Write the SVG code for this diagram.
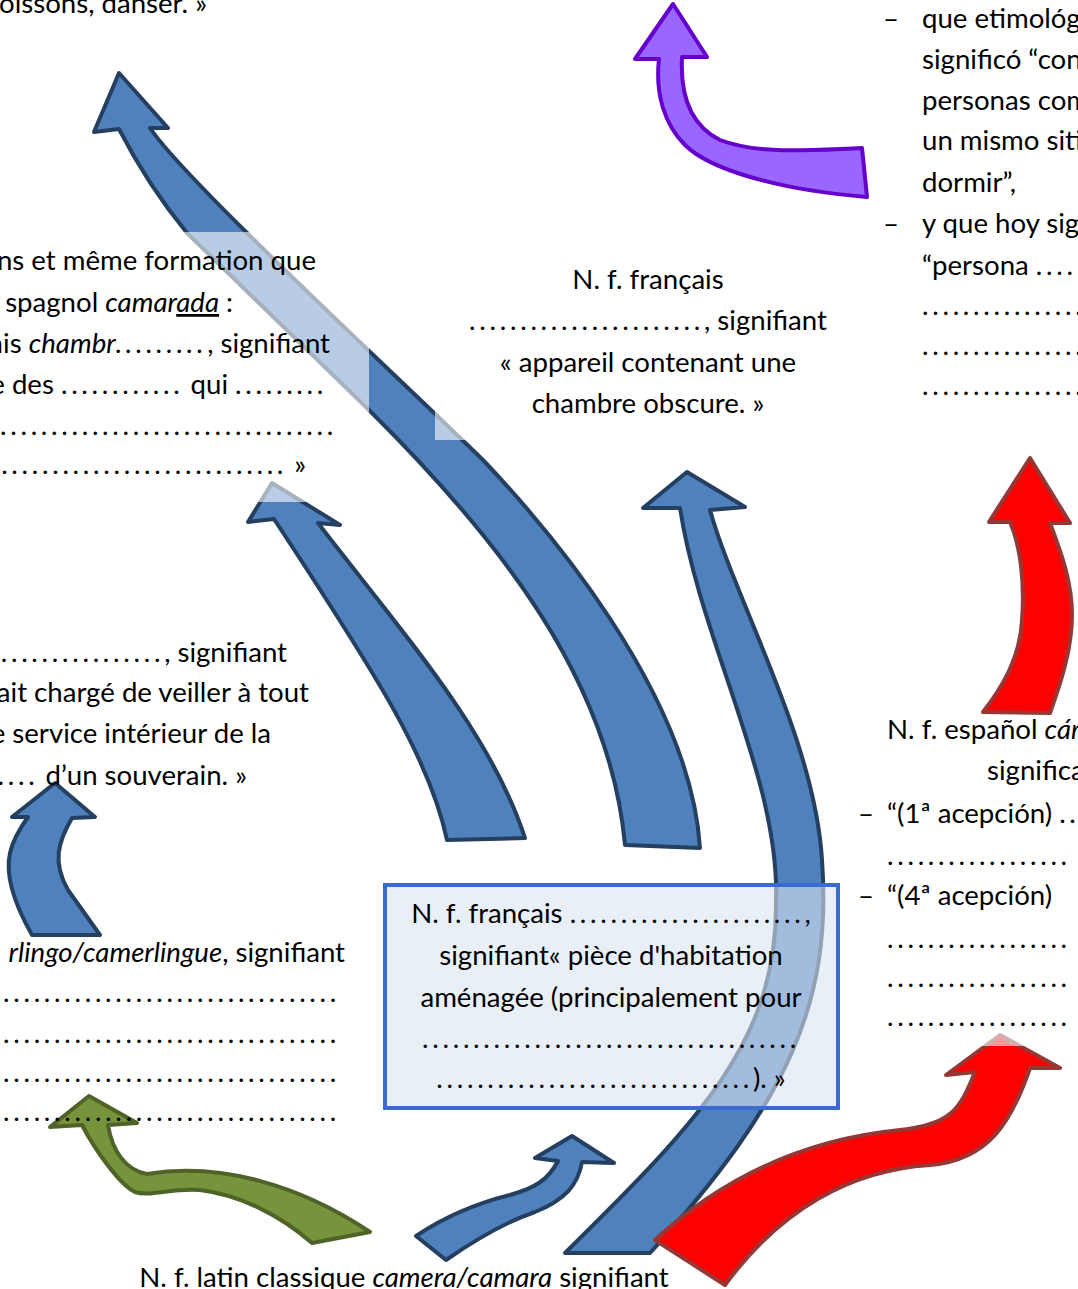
<svg xmlns="http://www.w3.org/2000/svg" width="1078" height="1289" viewBox="0 0 1078 1289">
<style>
.t{font-family:Lato,"Open Sans","Liberation Sans",sans-serif;font-size:27.6px;fill:#000}
.m{text-anchor:middle}
.e{text-anchor:end}
.i{font-style:italic}
.d{letter-spacing:3.7px}
.ov{fill:#fff;fill-opacity:.6}
.blue{fill:#4f81bd;stroke:#243f60;stroke-width:4;stroke-linejoin:round}
.purple{fill:#9966ff;stroke:#6600cc;stroke-width:4;stroke-linejoin:round}
.red{fill:#ff0000;stroke:#953735;stroke-width:4;stroke-linejoin:round}
.green{fill:#77933c;stroke:#4f6228;stroke-width:4;stroke-linejoin:round}
</style>
<g id="connectors">
<path class="blue" d="M119,73 L168,128 L150,128 C185,180 380,360 483,460 C540,520 690,690 700,848 L625,845 C610,680 500,540 369,410 L187,233 C160,200 135,160 119,129 L94,132 Z"/>
<path class="blue" d="M272,483 L340,525 L318,523 C400,630 490,730 525,838 L447,840 C430,760 380,680 274,519 L248,522 Z"/>
<path class="blue" d="M687,472 L745,507 L710,510 C735,600 815,740 822,860 C832,1000 790,1100 650,1253 L565,1253 C700,1120 778,1040 776,900 C780,780 700,640 680,508 L643,508 Z"/>
<path class="blue" d="M55,783 L95,817 L72,818 C58,842 52,862 68,890 L100,935 L32,935 C15,905 5,875 10,853 C13,840 20,828 28,817 L12,817 Z"/>
<path class="blue" d="M572,1136 L614,1163 L582,1162 C578,1185 565,1200 535,1212 C505,1222 475,1240 446,1260 L416,1236 C440,1220 470,1205 510,1195 C535,1188 548,1180 558,1161 L535,1158 Z"/>
<path class="green" d="M89,1096 L137,1123 L108,1125 C112,1150 125,1170 147,1174 C220,1162 300,1185 370,1232 L312,1243 C280,1215 240,1195 200,1190 C170,1188 150,1197 135,1192 C120,1185 95,1150 82,1125 L50,1127 Z"/>
<path class="purple" d="M673,4 L707,57 L682,57 C680,95 690,125 720,140 C760,155 810,150 862,148 L867,197 C780,190 710,170 685,145 C665,125 655,95 659,59 L635,59 Z"/>
<path class="red" d="M1030,458 L1070,523 L1050,523 C1060,550 1072,580 1072,615 C1072,650 1060,685 1050,713 L983,712 C1000,690 1020,660 1022,620 C1025,580 1020,545 1010,522 L989,522 Z"/>
<path class="red" d="M1000,1035 L1060,1068 L1030,1068 C1012,1120 990,1160 930,1165 C850,1170 780,1210 725,1285 L655,1240 C720,1180 800,1140 900,1130 C950,1125 960,1110 975,1072 L946,1075 Z"/>
</g>
<g id="node-top">
<text class="t e" x="207" y="13">boissons, danser. »</text>
</g>
<g id="node-camarade">
<rect class="ov" x="-5" y="232" width="374" height="270"/>
<text class="t e" x="316" y="270">ns et même formation que</text>
<text class="t e" x="233" y="312">spagnol <tspan class="i">camar</tspan><tspan class="i" text-decoration="underline">ada</tspan> :</text>
<text class="t e" x="330" y="353">ais <tspan class="i">chambr</tspan><tspan class="i d">.........</tspan>, signifiant</text>
<text class="t e" x="327" y="394">e des <tspan class="d">............</tspan> qui <tspan class="d">.........</tspan></text>
<text class="t d" x="0" y="435">.................................</text>
<text class="t e" x="306" y="474"><tspan class="d">............................</tspan> »</text>
</g>
<g id="node-camera">
<rect class="ov" x="435" y="250" width="425" height="190"/>
<text class="t m" x="648" y="289">N. f. français</text>
<text class="t m" x="648" y="330"><tspan class="d">.......................</tspan>, signifiant</text>
<text class="t m" x="648" y="372">« appareil contenant une</text>
<text class="t m" x="648" y="413">chambre obscure. »</text>
</g>
<g id="node-chambellan">
<text class="t e" x="287" y="662"><tspan class="d">.................</tspan>, signifiant</text>
<text class="t e" x="309" y="702">ait chargé de veiller à tout</text>
<text class="t e" x="271" y="743">e service intérieur de la</text>
<text class="t e" x="247" y="785"><tspan class="d">....</tspan> d’un souverain. »</text>
</g>
<g id="node-camerlingue">
<text class="t e" x="345" y="962"><tspan class="i">rlingo/camerlingue</tspan>, signifiant</text>
<text class="t d" x="3" y="1002">.................................</text>
<text class="t d" x="3" y="1043">.................................</text>
<text class="t d" x="3" y="1082">.................................</text>
<text class="t d" x="3" y="1121">.................................</text>
</g>
<g id="node-chambre">
<rect x="385" y="885" width="453" height="223" fill="#dbe5f1" fill-opacity=".6" stroke="#3a6bd0" stroke-width="4"/>
<text class="t m" x="611" y="923">N. f. français <tspan class="d">.......................</tspan>,</text>
<text class="t m" x="611" y="965">signifiant« pièce d'habitation</text>
<text class="t m" x="611" y="1007">aménagée (principalement pour</text>
<text class="t m" x="611" y="1048"><tspan class="d">.....................................</tspan></text>
<text class="t m" x="611" y="1088"><tspan class="d">...............................</tspan>). »</text>
</g>
<g id="node-latin">
<text class="t m" x="404" y="1287">N. f. latin classique <tspan class="i">camera/camara</tspan> signifiant</text>
</g>
<g id="node-camarada">
<text class="t" x="883" y="28">–</text>
<text class="t" x="922" y="28">que etimológ</text>
<text class="t" x="922" y="69">significó “con</text>
<text class="t" x="922" y="110">personas com</text>
<text class="t" x="922" y="150">un mismo siti</text>
<text class="t" x="922" y="192">dormir”,</text>
<text class="t" x="883" y="233">–</text>
<text class="t" x="922" y="233">y que hoy sig</text>
<text class="t" x="922" y="275">“persona <tspan class="d">......</tspan></text>
<text class="t d" x="922" y="315">................</text>
<text class="t d" x="922" y="355">................</text>
<text class="t d" x="922" y="395">................</text>
</g>
<g id="node-camara">
<rect class="ov" x="850" y="716" width="240" height="330"/>
<text class="t" x="887" y="739">N. f. español <tspan class="i">cár</tspan></text>
<text class="t" x="987" y="780">significa</text>
<text class="t" x="858" y="823">–</text>
<text class="t" x="887" y="823">“(1ª acepción) <tspan class="d">....</tspan></text>
<text class="t d" x="887" y="865">..................</text>
<text class="t" x="858" y="905">–</text>
<text class="t" x="887" y="905">“(4ª acepción)</text>
<text class="t d" x="887" y="948">..................</text>
<text class="t d" x="887" y="987">..................</text>
<text class="t d" x="887" y="1026">..................</text>
</g>
</svg>
